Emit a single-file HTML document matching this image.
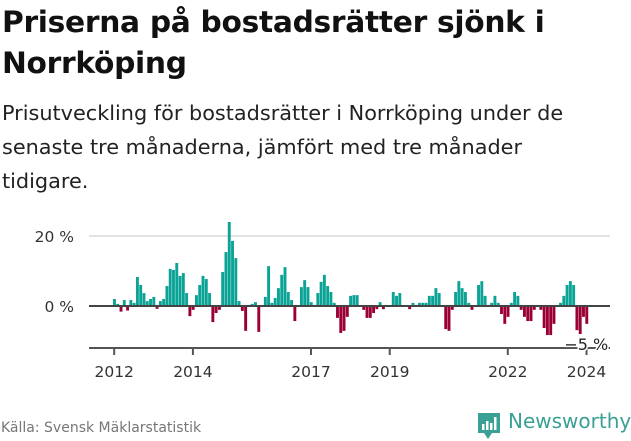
<!DOCTYPE html>
<html><head><meta charset="utf-8">
<style>
body{margin:0;width:631px;height:439px;background:#fff;font-family:"Liberation Sans","DejaVu Sans",sans-serif;overflow:hidden;position:relative}
h1{position:absolute;left:2px;top:2px;margin:0;font-size:29.7px;line-height:41px;font-weight:bold;color:#111;font-family:"DejaVu Sans","Liberation Sans",sans-serif;letter-spacing:-0.3px;white-space:nowrap}
p.sub{position:absolute;left:2px;top:96px;margin:0;font-size:20.8px;line-height:34px;color:#222;font-family:"DejaVu Sans","Liberation Sans",sans-serif;width:595px}
.src{position:absolute;left:1px;top:420px;font-size:14px;color:#777;font-family:"DejaVu Sans",sans-serif}
svg{position:absolute;left:0;top:0}
</style></head><body>
<h1>Priserna på bostadsrätter sjönk i<br>Norrköping</h1>
<p class="sub">Prisutveckling för bostadsrätter i Norrköping under de senaste tre månaderna, jämfört med tre månader tidigare.</p>
<svg id="chart" width="631" height="439"></svg>
<div class="src">Källa: Svensk Mäklarstatistik</div>
<div style="position:absolute;left:476px;top:409px;height:30px;">
<svg width="26" height="30" style="position:absolute;left:0;top:2px"><path d="M2 2h22v20h-8l-4 6-4-6H2z" fill="#3a9f94"/><rect x="6" y="13" width="2.5" height="6" fill="#fff"/><rect x="10" y="10" width="2.5" height="9" fill="#fff"/><rect x="14" y="12" width="2.5" height="7" fill="#fff"/><rect x="18" y="6" width="2.5" height="13" fill="#fff"/></svg>
<span style="position:absolute;left:32px;top:0;font-size:20px;color:#3a9f94;font-family:'DejaVu Sans',sans-serif;white-space:nowrap">Newsworthy</span>
</div>
<script>
const values=[2.0,0.6,-1.6,1.7,-1.3,1.7,0.9,8.3,6.0,3.7,1.4,2.0,
2.6,-0.8,1.4,2.0,5.7,10.6,10.3,12.3,8.6,9.4,3.7,-2.9,
-1.1,3.1,6.0,8.6,7.7,3.7,-4.6,-2.0,-1.1,9.7,15.4,24.0,
18.6,13.7,1.4,-1.4,-7.1,0.3,0.6,1.1,-7.4,0.3,2.6,11.4,
0.9,2.3,5.1,8.9,11.1,4.0,1.7,-4.3,0,5.4,7.4,5.4,
1.1,0,3.7,6.9,8.9,5.7,4.0,0.9,-3.4,-7.7,-7.1,-3.1,
2.9,3.1,3.1,0,-1.1,-3.4,-3.4,-2.0,-0.9,1.1,-0.9,0,
0,4.0,2.9,3.7,0,0,-0.9,0.9,0,0.9,0.9,0.9,
2.9,2.9,5.1,3.7,0,-6.6,-7.1,-1.1,4.0,7.1,5.1,4.0,
0.9,-1.1,0,6.0,7.1,2.9,0,0.9,2.9,0.9,-2.3,-5.1,
-3.1,0.9,4.0,2.9,-1.1,-3.1,-4.3,-4.3,-1.1,0,-1.1,-6.3,
-8.3,-8.3,-5.1,0,0.9,2.9,6.0,7.1,6.0,-6.9,-8.0,-3.1,-5.1];
const startYear=2012;
const yTicks=[0,20];
const yearTicks=[2012,2014,2017,2019,2022,2024];
const ns="http://www.w3.org/2000/svg";
const svg=document.getElementById('chart');
const x0=113,step=3.28;
const xs=i=>x0+step*i;
const ys=v=>306-v*3.5;
function mk(t,a){const e=document.createElementNS(ns,t);for(const k in a)e.setAttribute(k,a[k]);svg.appendChild(e);return e;}
yTicks.forEach(t=>{
  if(t!==0){const g=mk('line',{x1:89,x2:610,y1:ys(t),y2:ys(t),stroke:'#e3e3e3','stroke-width':2});
  
  }
  const l=mk('text',{x:74,y:ys(t)+6,'text-anchor':'end','font-size':15.5,fill:'#333','font-family':'DejaVu Sans, sans-serif'});
  l.textContent=t+' %';
  
  
});
values.forEach((v,i)=>{
  const y=Math.min(ys(v),ys(0)),h=Math.abs(ys(v)-ys(0));
  const r=mk('rect',{x:xs(i),y:y,width:2.9,height:h,fill:v>=0?'#0ba396':'#9b0035'});
  
  
});
const z=mk('line',{x1:89,x2:610,y1:306,y2:306,stroke:'#444','stroke-width':2});


const ax=mk('line',{x1:89,x2:610,y1:348,y2:348,stroke:'#555','stroke-width':2});


yearTicks.forEach(yr=>{
  const x=xs((yr-startYear)*12)+1.2;
  const t=mk('line',{x1:x,x2:x,y1:348,y2:355,stroke:'#555','stroke-width':2});
  
  
  const l=mk('text',{x:x,y:377,'text-anchor':'middle','font-size':15.5,fill:'#333','font-family':'DejaVu Sans, sans-serif'});
  l.textContent=yr;
  
  
});
const last=values[values.length-1];
const lb=mk('text',{x:xs(values.length-1)+1,y:350,'text-anchor':'middle','font-size':16,fill:'#222',stroke:'#fff','stroke-width':3,'paint-order':'stroke','font-family':'DejaVu Sans, sans-serif'});
lb.textContent='−'+Math.round(Math.abs(last))+' %';


</script>
</body></html>
